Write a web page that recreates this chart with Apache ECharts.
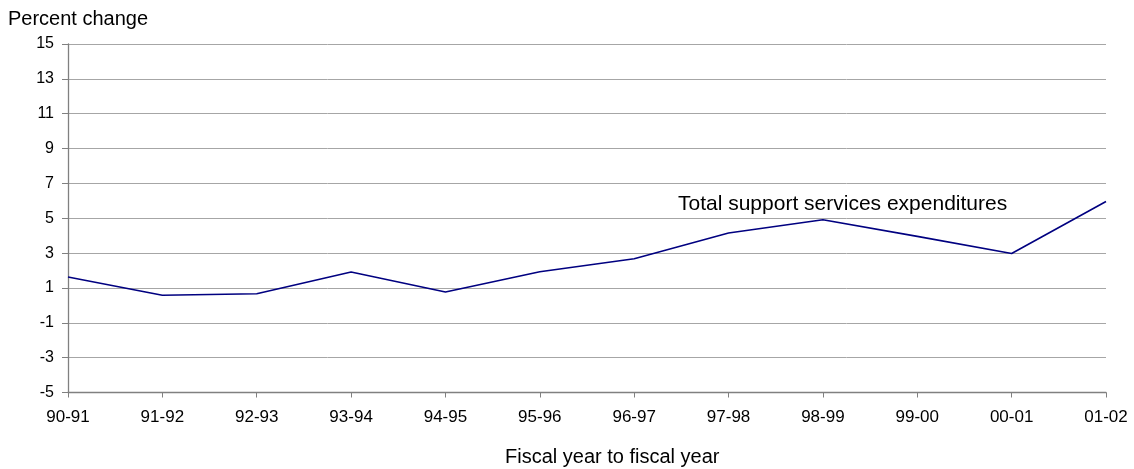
<!DOCTYPE html>
<html>
<head>
<meta charset="utf-8">
<script src="https://cdn.jsdelivr.net/npm/echarts@6/dist/echarts.min.js"></script>
<style>
html,body{margin:0;padding:0;background:#fff;}
#chart{width:1134px;height:469px;}
</style>
</head>
<body>
<div id="chart"></div>
<script>
const categories = ['90-91','91-92','92-93','93-94','94-95','95-96','96-97','97-98','98-99','99-00','00-01','01-02'];
const supportServices = [1.63, 0.58, 0.67, 1.92, 0.77, 1.93, 2.68, 4.15, 4.91, 3.96, 2.98, 5.96];
const yMin = -5, yMax = 15, yStep = 2;
const seriesName = 'Total support services expenditures';
const yTitle = 'Percent change';
const xTitle = 'Fiscal year to fiscal year';

const FONT = '"Liberation Sans", Arial, sans-serif';
const chart = echarts.init(document.getElementById('chart'), null, {renderer: 'canvas'});
chart.setOption({
  animation: false,
  backgroundColor: '#ffffff',
  grid: {left: 68, right: 28, top: 44, bottom: 76.5, containLabel: false},
  xAxis: {
    type: 'category',
    data: categories,
    boundaryGap: false,
    axisLine: {onZero: false, lineStyle: {color: '#808080', width: 1.3}},
    axisTick: {show: true, alignWithLabel: true, length: 5, lineStyle: {color: '#808080'}},
    axisLabel: {color: '#000', fontFamily: FONT, fontSize: 17, margin: 16, interval: 0},
    splitLine: {show: false}
  },
  yAxis: {
    type: 'value',
    min: yMin, max: yMax, interval: yStep,
    axisLine: {show: true, lineStyle: {color: '#808080', width: 1.3}},
    axisTick: {show: true, length: 6, lineStyle: {color: '#808080'}},
    axisLabel: {color: '#000', fontFamily: FONT, fontSize: 16, margin: 14},
    splitLine: {show: true, lineStyle: {color: '#a6a6a6', width: 1}}
  },
  series: [{
    name: seriesName,
    type: 'line',
    data: supportServices,
    symbol: 'none',
    lineStyle: {color: '#000080', width: 1.6},
    itemStyle: {color: '#000080'}
  }],
  graphic: [
    {type: 'text', left: 8, top: 9, style: {text: yTitle, font: '20px ' + FONT, fill: '#000'}},
    {type: 'text', left: 505, top: 447, style: {text: xTitle, font: '20px ' + FONT, fill: '#000'}},
    {type: 'text', left: 678, top: 194, style: {text: seriesName, font: '21px ' + FONT, fill: '#000'}}
  ]
});
</script>
</body>
</html>
